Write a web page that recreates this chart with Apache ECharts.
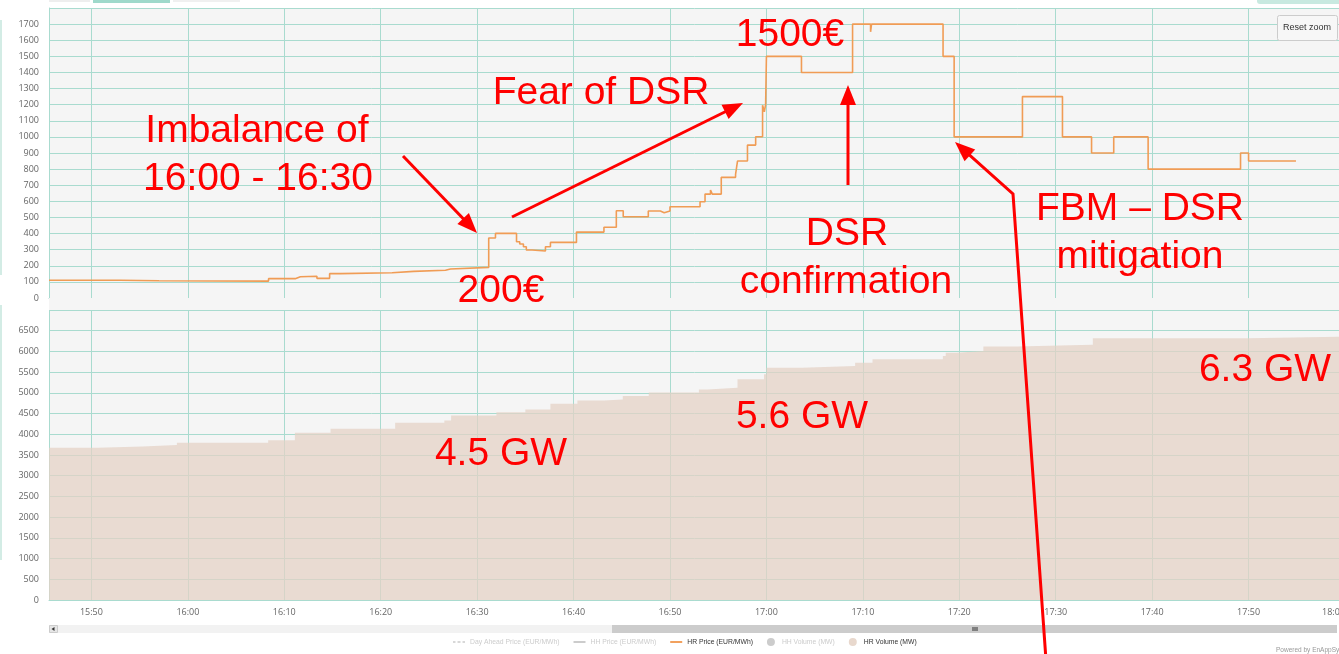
<!DOCTYPE html>
<html>
<head>
<meta charset="utf-8">
<script src="https://cdn.jsdelivr.net/npm/echarts@6/dist/echarts.min.js"></script>
<style>
html,body{margin:0;padding:0;background:#ffffff;}
#c{width:1339px;height:654px;}
</style>
</head>
<body>
<div id="c"></div>
<script>
// ---------------- DATA ----------------
const axisStart = '15:45:36';
const axisEnd = '18:00:00';

const priceTimes = ['15:45:36','15:53:00','15:57:00','16:08:22','16:11:08','16:11:40','16:13:23','16:14:42','16:15:50','16:21:11',
  '16:23:25','16:26:43','16:27:14','16:31:12','16:31:54','16:34:05','16:34:25','16:34:48','16:35:06','16:35:42',
  '16:37:05','16:37:36','16:40:18','16:43:09','16:44:26','16:45:09','16:47:45','16:49:00','16:49:24','16:50:00',
  '16:53:07','16:53:38','16:54:12','16:54:23','16:55:19','16:56:48','16:57:00','16:58:02','16:58:53','16:59:36',
  '16:59:47','16:59:55','17:00:00','17:03:38','17:08:56','17:10:48','17:10:54','17:18:19','17:19:28','17:26:33',
  '17:30:42','17:33:43','17:36:01','17:39:35','17:49:10','17:50:00','17:54:55'];
const priceValues = [110,107,105,120,132,135,122,151,157,165,
  172,180,190,372,401,349,335,318,298,292,
  318,345,409,439,542,504,540,529,540,566,
  597,645,670,645,749,767,850,949,1001,1197,
  1156,1200,1500,1400,1700,1652,1700,1500,1000,1250,
  1000,900,1000,800,900,850,850];

const volumeTimes = ['15:45:36','15:50:41','15:55:20','15:58:52','16:08:20','16:11:06','16:14:48','16:21:30','16:26:36','16:27:18',
  '16:32:00','16:35:00','16:37:36','16:40:24','16:43:12','16:45:06','16:47:48','16:53:00','16:53:54','16:57:00',
  '16:59:45','17:00:00','17:03:42','17:09:12','17:11:00','17:18:18','17:18:36','17:19:42','17:22:30','17:26:00',
  '17:33:51','17:49:58','18:00:00'];
const volumeValues = [3672,3704,3744,3793,3857,4035,4131,4277,4333,4454,
  4534,4599,4740,4815,4842,4922,5010,5083,5124,5326,
  5447,5608,5648,5729,5810,5890,5971,6011,6117,6164,
  6318,6359,6367];

const legendNames = ['Day Ahead Price (EUR/MWh)','HH Price (EUR/MWh)','HR Price (EUR/MWh)','HH Volume (MW)','HR Volume (MW)'];
const priceAxis = {min:0, max:1800, step:100};
const volumeAxis = {min:0, max:7000, step:500};

// ---------------- HELPERS ----------------
function toMin(s){ const p=s.split(':').map(Number); return p[0]*60+p[1]+(p[2]||0)/60; }
function fmt(v){ const h=Math.floor(v/60+1e-9); const m=Math.round(v-h*60); return String(h).padStart(2,'0')+':'+String(m).padStart(2,'0'); }
const priceData = priceTimes.map((t,i)=>[toMin(t), priceValues[i]]);
const volumeData = volumeTimes.map((t,i)=>[toMin(t), volumeValues[i]]);

const FONT = '"Liberation Sans", Arial, sans-serif';
const gridColor = '#a9dbcf';
const labelColor = '#666666';
const RED = '#ff0000';

const ICON_LINE = 'path://M0,0h0.01v0.01h-0.01zM0,3h12v2h-12zM12,8h-0.01v-0.01h0.01z';
const ICON_DASH = 'path://M0,0h0.01v0.01h-0.01zM0,3.25h2.5v1.5h-2.5zM4.5,3.25h3v1.5h-3zM9.5,3.25h2.5v1.5h-2.5zM12,8h-0.01v-0.01h0.01z';

function xAxisCfg(gi, showLabels){
  return {
    type:'value', gridIndex:gi, min:toMin(axisStart), max:toMin(axisEnd),
    minInterval:10, maxInterval:10, splitNumber:14,
    axisLine:{show:true, onZero:false, lineStyle:{color:gridColor, width:1}},
    axisTick:{show:false},
    splitLine:{show:true, lineStyle:{color:gridColor, width:1}},
    axisLabel:{show:showLabels, formatter:fmt, showMinLabel:false, alignMaxLabel:'right',
      margin:8, fontSize:9, color:labelColor, fontFamily:'"Open Sans", sans-serif'}
  };
}
function yAxisCfg(gi, ax){
  return {
    type:'value', gridIndex:gi, min:ax.min, max:ax.max, interval:ax.step,
    axisLine:{show:true, lineStyle:{color:gridColor, width:1}},
    axisTick:{show:false},
    splitLine:{show:true, lineStyle:{color:gridColor, width:1}},
    axisLabel:{showMaxLabel:false, formatter:(v)=>String(v), fontSize:9, color:labelColor, margin:10, padding:[0,0,8,0],
      fontFamily:'"Open Sans", sans-serif'}
  };
}

function arrow(points){
  const n=points.length;
  const [x1,y1]=points[n-2], [x2,y2]=points[n-1];
  const dx=x2-x1, dy=y2-y1, L=Math.hypot(dx,dy), ux=dx/L, uy=dy/L;
  const hl=20, hw=8;
  const bx=x2-ux*hl, by=y2-uy*hl;
  const linePts=points.slice(0,n-1).concat([[bx+ux*3, by+uy*3]]);
  return [
    {type:'polyline', z:100, shape:{points:linePts}, style:{stroke:RED, lineWidth:3, fill:null}},
    {type:'polygon', z:100, shape:{points:[[x2,y2],[bx-uy*hw, by+ux*hw],[bx+uy*hw, by-ux*hw]]}, style:{fill:RED}}
  ];
}
function note(text, x, y){
  return {type:'text', z:100, x:x, y:y, style:{text:text, font:'39px '+FONT, fill:RED, align:'center', verticalAlign:'middle'}};
}
function rect(x,y,w,h,fill,extra){
  return Object.assign({type:'rect', z:1, shape:{x:x,y:y,width:w,height:h}, style:{fill:fill}}, extra||{});
}

const graphics = [
  // chrome
  rect(49,298,1296,12,'#f5f5f5'),
  rect(49,0,41,2,'#eeeeee'), rect(93,0,77,3,'#9fd9cb'), rect(173,0,67,2,'#f0f0f0'),
  rect(1257,-4,84,8,'#c8e9e0',{shape:{x:1257,y:-4,width:84,height:8,r:3}}),
  rect(0,20,2,255,'#d3ece5'), rect(0,305,2,255,'#d3ece5'),
  // reset zoom button
  {type:'rect', z:50, shape:{x:1277.5,y:15.5,width:60,height:25,r:2}, style:{fill:'#f7f7f7', stroke:'#cccccc', lineWidth:1}},
  {type:'text', z:51, x:1307, y:28, style:{text:'Reset zoom', font:'9px '+FONT, fill:'#333333', align:'center', verticalAlign:'middle'}},
  // scrollbar
  rect(49,625,1284,8,'#f2f2f2'),
  {type:'rect', z:2, shape:{x:49.5,y:625.5,width:8,height:7}, style:{fill:'#e6e6e6', stroke:'#cccccc', lineWidth:1}},
  {type:'polygon', z:3, shape:{points:[[51.5,629],[54.5,627],[54.5,631]]}, style:{fill:'#333'}},
  rect(612,625,725,8,'#cccccc',{z:2}),
  rect(972.5,627,1,4,'#333',{z:3}), rect(974.5,627,1,4,'#333',{z:3}), rect(976.5,627,1,4,'#333',{z:3}),
  // credit
  {type:'text', z:5, x:1276, y:650, style:{text:'Powered by EnAppSys', font:'6.5px '+FONT, fill:'#999999', verticalAlign:'middle'}},
  // annotations
  note('Imbalance of',257,131),
  note('16:00 - 16:30',258,179),
  note('200€',501,291),
  note('Fear of DSR',601,93),
  note('1500€',790,35),
  note('DSR',847,234),
  note('confirmation',846,282),
  note('FBM – DSR',1140,209),
  note('mitigation',1140,257),
  note('4.5 GW',501,454),
  note('5.6 GW',802,417),
  note('6.3 GW',1265,370)
].concat(
  arrow([[403,156],[477,233]]),
  arrow([[512,217],[743,103]]),
  arrow([[848,185],[848,85]]),
  arrow([[1046,660],[1013,194],[955,142]])
);

const option = {
  animation:false,
  backgroundColor:'#ffffff',
  grid:[
    {left:49, top:8, width:1296, height:290, show:true, backgroundColor:'#f5f5f5', borderWidth:0, outerBoundsMode:'none', containLabel:false},
    {left:49, top:310, width:1296, height:290, show:true, backgroundColor:'#f5f5f5', borderWidth:0, outerBoundsMode:'none', containLabel:false}
  ],
  xAxis:[xAxisCfg(0,false), xAxisCfg(1,true)],
  yAxis:[yAxisCfg(0,priceAxis), yAxisCfg(1,volumeAxis)],
  legend:{
    left:453, top:638, padding:0, itemWidth:12, itemHeight:8, itemGap:14,
    textStyle:{fontSize:6.8, color:'#333333', fontFamily:FONT},
    inactiveColor:'#cccccc',
    data:[
      {name:legendNames[0], icon:ICON_DASH}, {name:legendNames[1], icon:ICON_LINE}, {name:legendNames[2], icon:ICON_LINE},
      {name:legendNames[3], icon:'circle'}, {name:legendNames[4], icon:'circle'}
    ],
    selected:{[legendNames[0]]:false, [legendNames[1]]:false, [legendNames[3]]:false}
  },
  series:[
    {name:legendNames[0], type:'line', xAxisIndex:0, yAxisIndex:0, data:[], symbol:'none', color:'#888888', lineStyle:{type:'dashed', width:1.5}},
    {name:legendNames[1], type:'line', xAxisIndex:0, yAxisIndex:0, data:[], symbol:'none', color:'#888888', lineStyle:{width:1.5}},
    {name:legendNames[2], type:'line', xAxisIndex:0, yAxisIndex:0, step:'end', data:priceData, symbol:'none',
      color:'#f2a15e', lineStyle:{width:1.6, color:'#f09c55'}, z:5},
    {name:legendNames[3], type:'line', xAxisIndex:1, yAxisIndex:1, data:[], symbol:'none', color:'#888888'},
    {name:legendNames[4], type:'line', xAxisIndex:1, yAxisIndex:1, step:'end', data:volumeData, symbol:'none',
      color:'#e8d8cd', lineStyle:{width:1, opacity:0}, areaStyle:{color:'rgba(228,210,198,0.75)', opacity:1}}
  ],
  graphic:{elements:graphics}
};

const chart = echarts.init(document.getElementById('c'), null, {renderer:'canvas'});
chart.setOption(option);
</script>
</body>
</html>
